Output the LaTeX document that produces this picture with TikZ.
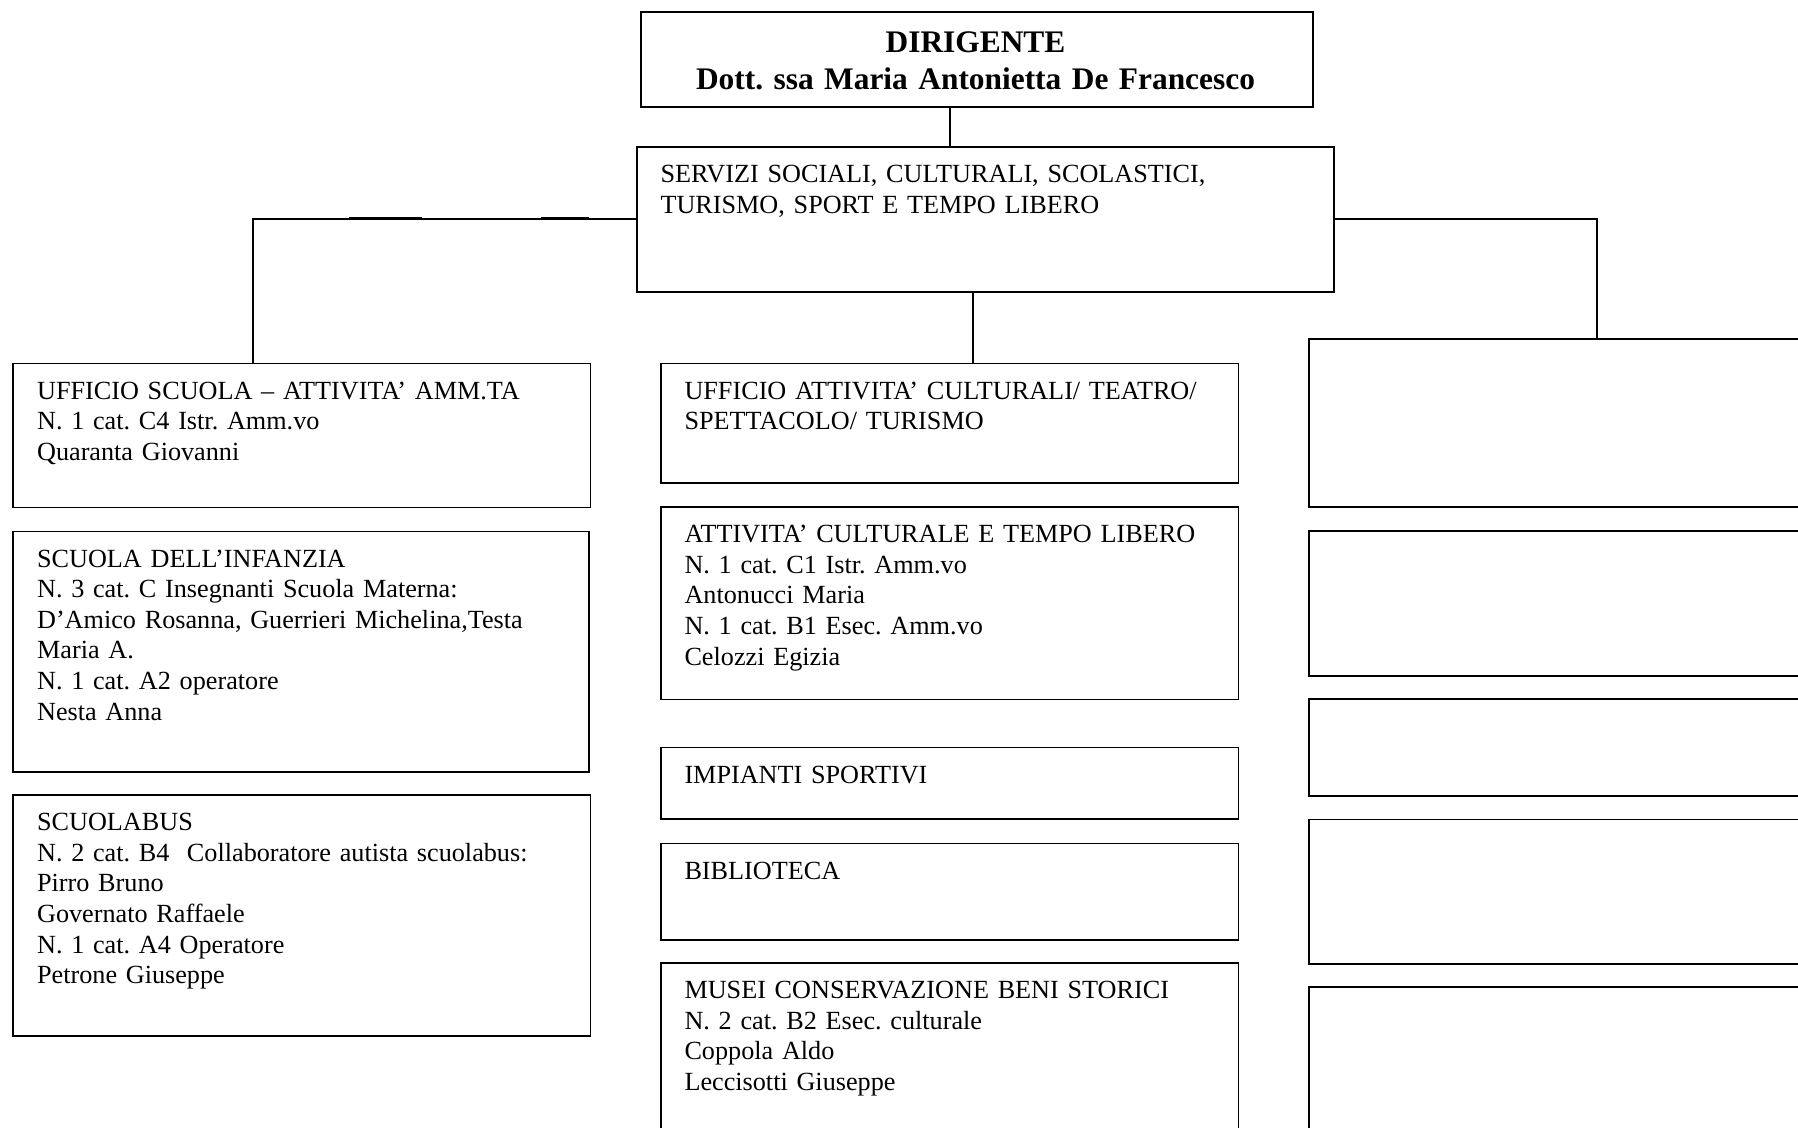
\documentclass[tikz,border=0pt]{standalone}
\usepackage{fontspec}
\setmainfont{Liberation Serif}
\usetikzlibrary{fit,calc}
\frenchspacing
\begin{document}
\begin{tikzpicture}[x=0.5pt,y=-0.5pt,
  box/.style={draw=black, line width=0.9pt, inner sep=0pt},
  txt/.style={anchor=base west, inner sep=0pt, align=left, text width=320pt,
    font=\fontsize{13.1}{15.3}\selectfont},
  ttl/.style={anchor=base, inner sep=0pt, align=center, text width=330pt,
    font=\fontsize{15.7}{18.3}\selectfont\bfseries},
  conn/.style={line width=0.9pt},
  thickseg/.style={line width=1.5pt}]
\useasboundingbox (0,0) rectangle (1798,1128);
\clip (0,0) rectangle (1798,1128);
\fill[white] (0,0) rectangle (1798,1128);

% boxes
\node[box, fit={(641,11.7)(1313,107)}] (dir) {};
\node[box, fit={(637,147)(1334,292)}] (serv) {};
\node[box, fit={(12.6,363.5)(590.5,507.5)}] (l1) {};
\node[box, fit={(12.6,531.5)(589,772)}] (l2) {};
\node[box, fit={(12.6,795)(590.5,1036)}] (l3) {};
\node[box, fit={(661,363.5)(1238.5,483)}] (m1) {};
\node[box, fit={(661,507)(1238.5,699.5)}] (m2) {};
\node[box, fit={(661,747.5)(1238.5,819)}] (m3) {};
\node[box, fit={(661,843.5)(1238.5,940)}] (m4) {};
\node[box, fit={(661,963)(1238.5,1170)}] (m5) {};
\node[box, fit={(1309,339)(1900,507)}] (r1) {};
\node[box, fit={(1309,531)(1900,676)}] (r2) {};
\node[box, fit={(1309,699)(1900,796)}] (r3) {};
\node[box, fit={(1309,819.5)(1900,964)}] (r4) {};
\node[box, fit={(1309,987)(1900,1170)}] (r5) {};

% texts
\node[ttl] (tdir) at (975.5,52.5) {DIRIGENTE\\Dott. ssa Maria Antonietta De Francesco};
\node[txt] (tserv) at ($(serv.north west)+(24,36.5)$) {SERVIZI SOCIALI, CULTURALI, SCOLASTICI,\\TURISMO, SPORT E TEMPO LIBERO};
\node[txt] (tl1) at ($(l1.north west)+(25,36.5)$) {UFFICIO SCUOLA – ATTIVITA’ AMM.TA\\N. 1 cat. C4 Istr. Amm.vo\\Quaranta Giovanni};
\node[txt] (tl2) at ($(l2.north west)+(25,36.5)$) {SCUOLA DELL’INFANZIA\\N. 3 cat. C Insegnanti Scuola Materna:\\D’Amico Rosanna, Guerrieri Michelina,Testa\\Maria A.\\N. 1 cat. A2 operatore\\Nesta Anna};
\node[txt] (tl3) at ($(l3.north west)+(25,36.5)$) {SCUOLABUS\\N. 2 cat. B4~ Collaboratore autista scuolabus:\\Pirro Bruno\\Governato Raffaele\\N. 1 cat. A4 Operatore\\Petrone Giuseppe};
\node[txt] (tm1) at ($(m1.north west)+(24,36.5)$) {UFFICIO ATTIVITA’ CULTURALI/ TEATRO/\\SPETTACOLO/ TURISMO};
\node[txt] (tm2) at ($(m2.north west)+(24,36.5)$) {ATTIVITA’ CULTURALE E TEMPO LIBERO\\N. 1 cat. C1 Istr. Amm.vo\\Antonucci Maria\\N. 1 cat. B1 Esec. Amm.vo\\Celozzi Egizia};
\node[txt] (tm3) at ($(m3.north west)+(24,36.5)$) {IMPIANTI SPORTIVI};
\node[txt] (tm4) at ($(m4.north west)+(24,36.5)$) {BIBLIOTECA};
\node[txt] (tm5) at ($(m5.north west)+(24,36.5)$) {MUSEI CONSERVAZIONE BENI STORICI\\N. 2 cat. B2 Esec. culturale\\Coppola Aldo\\Leccisotti Giuseppe};

% connectors
\coordinate (ka) at (950,0);
\coordinate (kb) at (973,0);
\coordinate (kl) at (253,219);
\coordinate (kr) at (1597,219);
\draw[conn] (ka |- dir.south) -- (ka |- serv.north);
\draw[conn] (kb |- serv.south) -- (kb |- m1.north);
\draw[conn] (kl -| serv.west) -| (l1.north -| kl);
\draw[conn] (kr -| serv.east) -| (r1.north -| kr);
\draw[thickseg] (349,219) -- (422,219);
\draw[thickseg] (541,219) -- (589,219);
\end{tikzpicture}
\end{document}
